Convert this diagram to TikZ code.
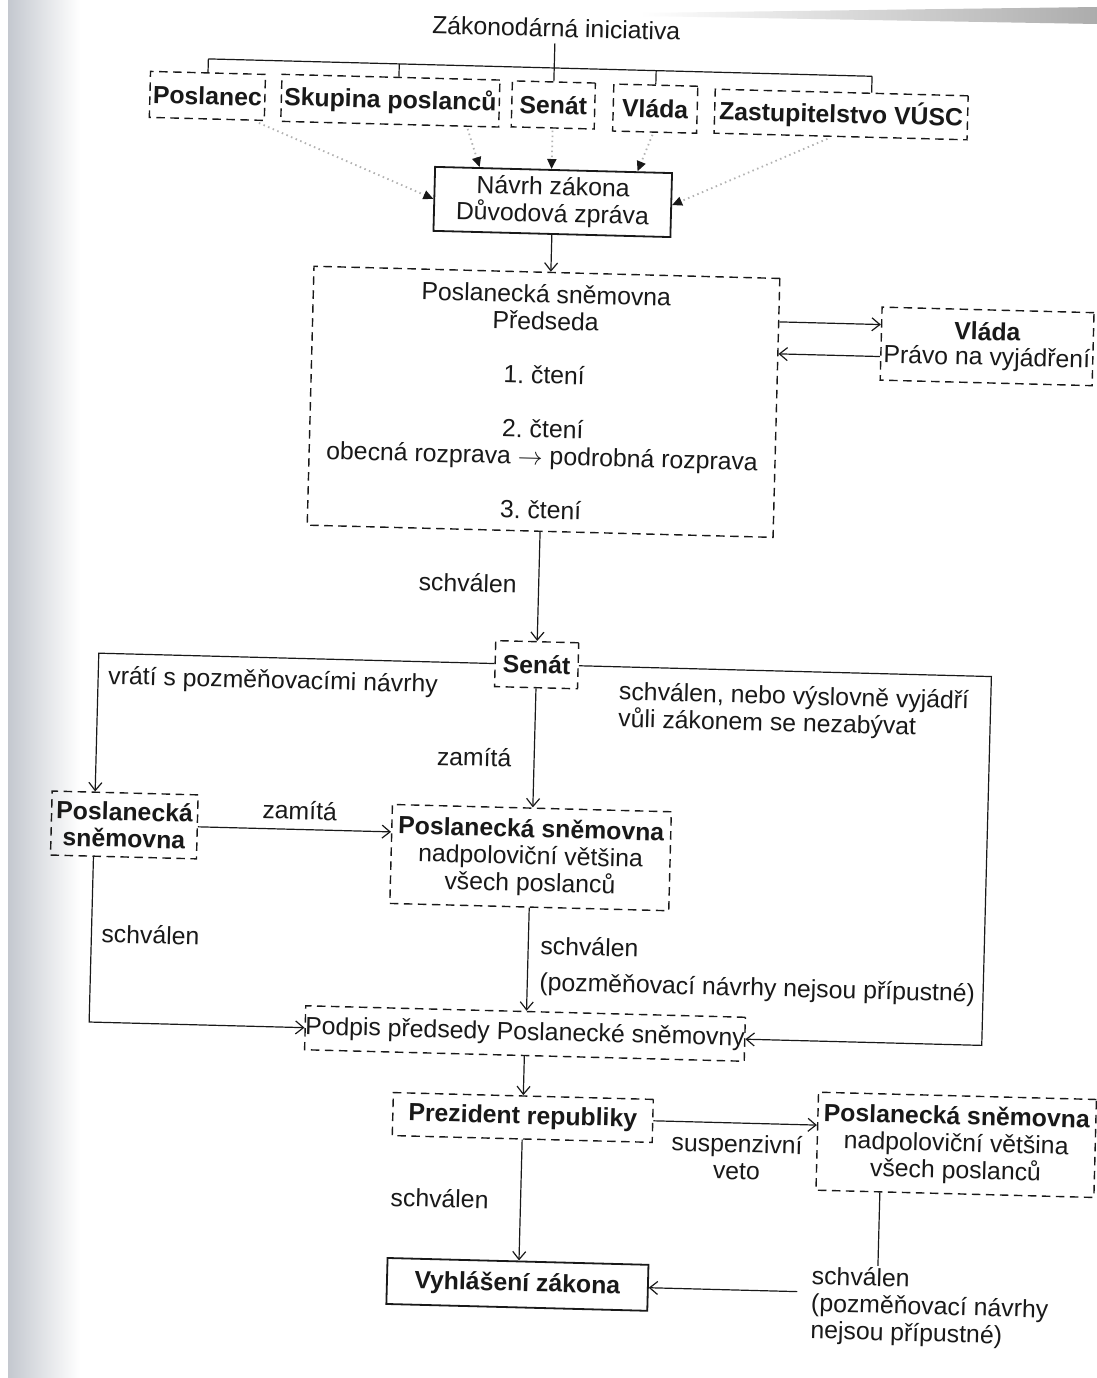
\documentclass[tikz,border=0pt]{standalone}
\usepackage{fontspec}
\setmainfont{Liberation Sans}
\usetikzlibrary{arrows.meta,calc}

\definecolor{ink}{RGB}{25,25,25}
\definecolor{gutter}{RGB}{196,200,207}

\begin{document}
\begin{tikzpicture}[x=1pt,y=-1pt,
  font=\fontsize{24.8}{27}\selectfont\frenchspacing, text=ink,
  every node/.style={inner sep=0pt, align=center},
  dbox/.style={draw=ink, line width=1.4pt, dash pattern=on 8.5pt off 5.5pt},
  sbox/.style={draw=ink, line width=1.8pt},
  wire/.style={draw=ink, line width=1.2pt},
  conn/.style={draw=ink, line width=1.2pt,
    -{Straight Barb[length=8pt,width=13pt,line width=1.2pt]}},
  dots/.style={draw=gray!60, line width=1.8pt, dash pattern=on 1.5pt off 3.5pt,
    -{Triangle[length=10pt,width=9pt,color=ink]}}
]
% page and paper shading
\useasboundingbox (0,0) rectangle (1097,1378);
\fill[white] (0,0) rectangle (1097,1378);
\shade[left color=gutter, right color=white] (8,0) rectangle (80,1378);
\shade[left color=white, right color=gray!65] (640,13) -- (1097,7) -- (1097,24) -- (640,16) -- cycle;

\begin{scope}[rotate around={-1.5:(548,689)}, transform shape]
% ---------- nodes ----------
\node[inner sep=6pt] (title) at (539,28) {Zákonodárná iniciativa};

\node[dbox, minimum width=115pt, minimum height=46pt] (bPos)  at (192,105) {\textbf{Poslanec}};
\node[dbox, minimum width=218pt, minimum height=47pt] (bSkup) at (375,105) {\textbf{Skupina poslanců}};
\node[dbox, minimum width=83pt,  minimum height=46pt] (bSen)  at (538,105) {\textbf{Senát}};
\node[dbox, minimum width=84pt,  minimum height=47pt] (bVla)  at (640,106) {\textbf{Vláda}};
\node[dbox, minimum width=253pt, minimum height=44pt] (bZas)  at (826,107) {\textbf{Zastupitelstvo VÚSC}};

\node[sbox, minimum width=237pt, minimum height=64pt] (nav) at (540,202) {Návrh zákona\\Důvodová zpráva};

\node[dbox, minimum width=466pt, minimum height=259pt] (ps) at (536,402)
  {Poslanecká sněmovna\\Předseda\\[27pt]1. čtení\\[27pt]2. čtení\\obecná rozprava $\rightarrow$ podrobná rozprava\\[27pt]3. čtení};

\node[dbox, minimum width=212pt, minimum height=73pt, font=\fontsize{24.8}{25}\selectfont] (vl) at (978,335)
  {\textbf{Vláda}\\Právo na vyjádření};

\node[dbox, minimum width=83pt, minimum height=46pt] (sen) at (536,665) {\textbf{Senát}};

\node[dbox, minimum width=146pt, minimum height=64pt] (psl) at (128,836)
  {\textbf{Poslanecká}\\\textbf{sněmovna}};

\node[dbox, minimum width=279pt, minimum height=99pt] (psm) at (535,858)
  {\textbf{Poslanecká sněmovna}\\nadpoloviční většina\\všech poslanců};

\node[dbox, minimum width=438pt, minimum height=44pt] (pod) at (534,1034)
  {Podpis předsedy Poslanecké sněmovny};

\node[dbox, minimum width=260pt, minimum height=43pt] (pres) at (534,1118) {\textbf{Prezident republiky}};

\node[dbox, minimum width=278pt, minimum height=98pt] (psr) at (968,1134)
  {\textbf{Poslanecká sněmovna}\\nadpoloviční většina\\všech poslanců};

\node[sbox, minimum width=261pt, minimum height=46pt] (vyh) at (533,1285) {\textbf{Vyhlášení zákona}};

% edge labels
\node (l1) at (465,585) {schválen};
\node[anchor=west] (l2) at (108,689) {vrátí s pozměňovacími návrhy};
\node[anchor=west, align=left] (l3) at (619,705) {schválen, nebo výslovně vyjádří\\vůli zákonem se nezabývat};
\node (l4) at (476,759) {zamítá};
\node (l5) at (303,817) {zamítá};
\node (l7) at (157,945) {schválen};
\node[anchor=west, align=left] (l6) at (547,966) {schválen\\[9pt](pozměňovací návrhy nejsou přípustné)};
\node (l8) at (749,1152) {suspenzivní\\veto};
\node (l9) at (453,1201) {schválen};
\node[anchor=west, align=left, inner sep=2pt] (l10) at (825,1298) {schválen\\(pozměňovací návrhy\\nejsou přípustné)};

% ---------- connectors ----------
% bracket of the initiators
\coordinate (brk) at (0,68);
\draw[wire] (bPos.north |- brk) -- ([xshift=30pt]bZas.north |- brk);
\draw[wire] (bPos.north) -- (bPos.north |- brk);
\draw[wire] ([xshift=8pt]bSkup.north) -- ([xshift=8pt]bSkup.north |- brk);
\draw[wire] (bSen.north) -- (bSen.north |- title.south);
\draw[wire] (bVla.north) -- (bVla.north |- brk);
\draw[wire] ([xshift=30pt]bZas.north) -- ([xshift=30pt]bZas.north |- brk);

% dotted feeds into the bill
\draw[dots] ([xshift=-6pt,yshift=-2pt]bPos.south east) -- (nav.west);
\draw[dots] ([xshift=78pt,yshift=-2pt]bSkup.south) -- ([xshift=-74pt]nav.north);
\draw[dots] ([yshift=-2pt]bSen.south) -- (bSen.south |- nav.north);
\draw[dots] ([xshift=-2pt,yshift=-2pt]bVla.south) -- ([xshift=84pt]nav.north);
\draw[dots] ([xshift=-13pt,yshift=-2pt]bZas.south) -- (nav.east);

\draw[conn] (nav.south) -- (nav.south |- ps.north);

\coordinate (vlU) at ([yshift=19pt]vl.west);
\coordinate (vlD) at ([yshift=-13pt]vl.west);
\draw[conn] (ps.east |- vlU) -- (vlU);
\draw[conn] (vlD) -- (ps.east |- vlD);

\draw[conn] (sen.north |- ps.south) -- (sen.north);

\draw[conn] (sen.west) -| ([xshift=-30pt]psl.north);
\coordinate (rc) at (991,0);
\draw[conn] (sen.east) -| (rc |- pod.east) -- (pod.east);
\draw[conn] (sen.south) -- (sen.south |- psm.north);
\draw[conn] (psl.east) -- (psl.east -| psm.west);
\draw[conn] ([xshift=-30pt]psl.south) |- (pod.west);
\draw[conn] (psm.south) -- (psm.south |- pod.north);

\draw[conn] (pod.south) -- (pod.south |- pres.north);
\draw[conn] (pres.east) -- (pres.east -| psr.west);
\draw[conn] (pres.south) -- (pres.south |- vyh.north);
\draw[wire] ([xshift=-75pt]psr.south) -- ([xshift=-75pt]psr.south |- l10.north);
\draw[conn] ([xshift=-12pt]l10.west |- vyh.east) -- (vyh.east);
\end{scope}
\end{tikzpicture}
\end{document}
